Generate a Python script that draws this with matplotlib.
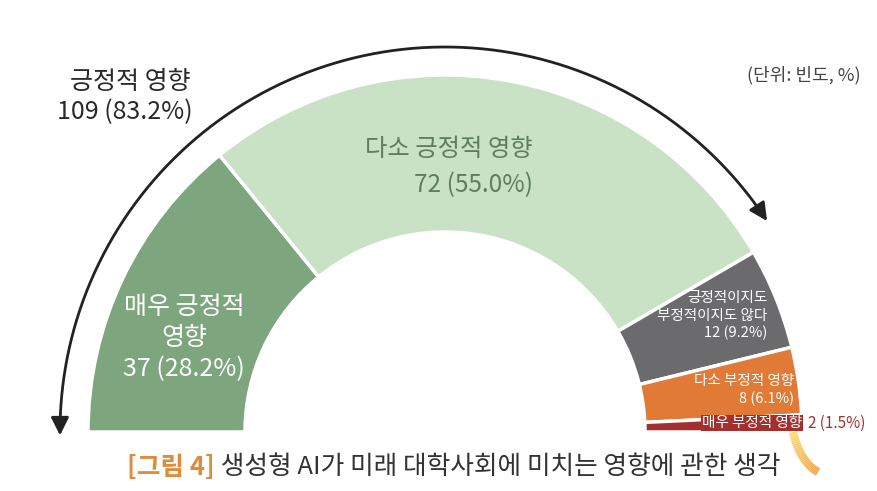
import numpy as np
import matplotlib.pyplot as plt
from matplotlib.patches import FancyArrowPatch
from matplotlib.path import Path
from matplotlib.collections import LineCollection

plt.rcParams['font.family'] = ['Noto Sans CJK KR', 'DejaVu Sans']

# 데이터
categories = ['매우 긍정적\n영향', '다소 긍정적 영향', '긍정적이지도\n부정적이지도 않다',
              '다소 부정적 영향', '매우 부정적 영향']
counts = [37, 72, 12, 8, 2]
percents = [28.2, 55.0, 9.2, 6.1, 1.5]
colors = ['#7ea67e', '#c9e2c5', '#6b6b6d', '#e07a36', '#a3302f']
positive_label = '긍정적 영향'
positive_total = 109
positive_pct = 83.2

W, H = 877, 491
fig = plt.figure(figsize=(W / 100, H / 100), dpi=100)
ax = fig.add_axes([0, 0, 1, 1])

def py(y):
    # 픽셀 y (위에서부터) -> 데이터 y
    return H - y

cx, cy = 445, py(432)
R_out, ring = 357, 157

# 반원 도넛: 보이지 않는 절반을 추가
vals = counts + [sum(counts)]
wedges, _ = ax.pie(vals, colors=colors + ['white'], startangle=180, counterclock=False,
                   radius=R_out, center=(cx, cy), frame=True,
                   wedgeprops=dict(width=ring, edgecolor='white', linewidth=2.5))
wedges[-1].set_visible(False)

ax.set_xlim(0, W)
ax.set_ylim(0, H)
ax.set_aspect('auto')
ax.axis('off')

# 조각 라벨
lab = [f'{c}\n{n} ({p:.1f}%)' for c, n, p in zip(categories, counts, percents)]
ax.text(184, py(338), lab[0], ha='center', va='center', color='white',
        fontsize=18, linespacing=1.27)
ax.text(533, py(167), lab[1], ha='right', va='center', color='#5d7d5d',
        fontsize=17.5, linespacing=1.5)
ax.text(767, py(316), lab[2], ha='right', va='center', color='white',
        fontsize=10.5, linespacing=1.3)
ax.text(794, py(390), lab[3], ha='right', va='center', color='white',
        fontsize=10.5, linespacing=1.3)
ax.text(802, py(423), categories[4], ha='right', va='center', color='white',
        fontsize=10.5, bbox=dict(boxstyle='square,pad=0.05', fc=colors[4], ec='none'))
ax.text(808, py(423), f'{counts[4]} ({percents[4]:.1f}%)', ha='left', va='center',
        color=colors[4], fontsize=11)

# 긍정적 영향 화살표
share = positive_total / sum(counts)
r_arr = 385
theta = np.radians(np.linspace(180.5, 180 - share * 180 + 3, 300))
verts = np.column_stack([cx + r_arr * np.cos(theta), cy + r_arr * np.sin(theta)])
arrow = FancyArrowPatch(path=Path(verts), arrowstyle='<|-|>,head_length=0.6,head_width=0.3',
                        mutation_scale=18, color='#222222', lw=2)
ax.add_patch(arrow)

ax.text(191, py(82), positive_label, ha='right', va='center', color='#2a2a2a',
        fontsize=18, fontweight='medium')
ax.text(193, py(112), f'{positive_total} ({positive_pct:.1f}%)', ha='right', va='center',
        color='#2a2a2a', fontsize=18)

ax.text(861, py(75), '(단위: 빈도, %)', ha='right', va='center', color='#444444', fontsize=13)

# 부정적 화살표 시작 부분 (잘려 있음)
t = np.linspace(0, 1, 30)
p0, p1, p2 = np.array([793, py(432)]), np.array([800, py(462)]), np.array([818, py(472)])
curve = ((1 - t) ** 2)[:, None] * p0 + (2 * (1 - t) * t)[:, None] * p1 + (t ** 2)[:, None] * p2
segs = np.stack([curve[:-1], curve[1:]], axis=1)
grad = plt.matplotlib.colors.LinearSegmentedColormap.from_list('g', ['#f8dc78', '#f0a04c'])
ax.add_collection(LineCollection(segs, colors=grad(t[:-1]), linewidths=6, capstyle='butt'))

# 제목
t1 = ax.text(127, py(467), '[그림 4]', ha='left', va='center', color='#e08a3a',
             fontsize=18.5, fontweight='bold')
ax.annotate(' 생성형 AI가 미래 대학사회에 미치는 영향에 관한 생각', xy=(1, 0.5),
            xycoords=t1, ha='left', va='center', color='#333333', fontsize=18.5)

fig.savefig('out.png', dpi=100)
